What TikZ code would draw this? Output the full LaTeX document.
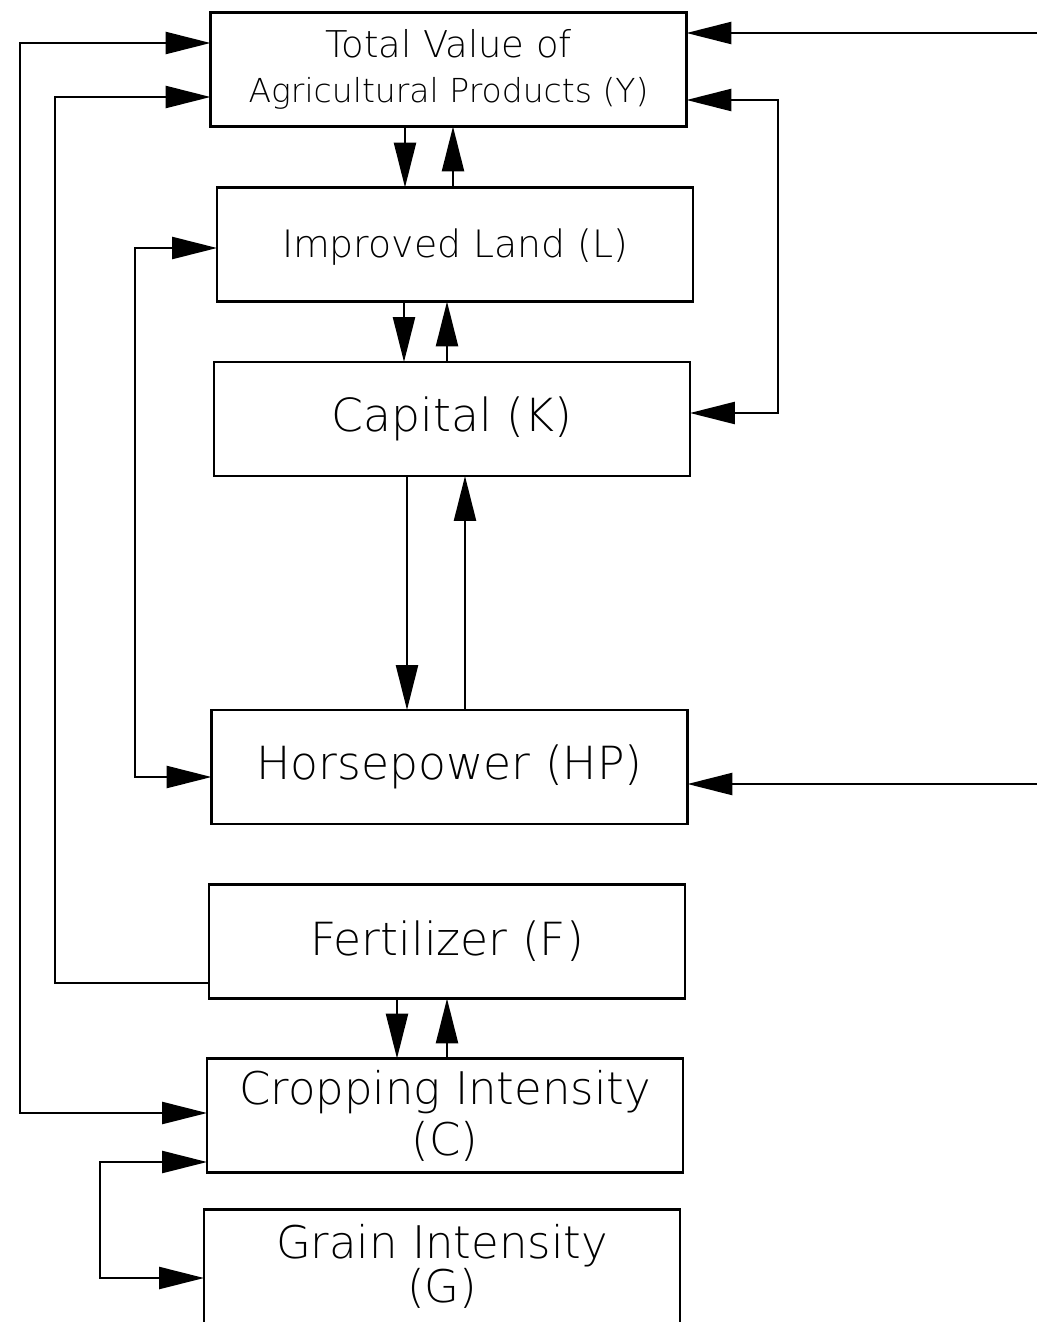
\documentclass[tikz,border=0pt]{standalone}
\usepackage{fontspec}
\setmainfont{DejaVu Sans ExtraLight}
\usetikzlibrary{arrows.meta}
\begin{document}
\begin{tikzpicture}[x=0.02cm, y=-0.02cm, line width=1.4pt,
    >={Triangle[length=0.9cm,width=0.44cm]},
    blk/.style={draw, minimum width=9.52cm, minimum height=2.28cm, align=center, inner sep=0pt, outer sep=0pt},
    big/.style={font=\fontsize{26}{34}\selectfont}]
\useasboundingbox (0,0) rectangle (1037,1322);
% boxes
\node[blk, font=\fontsize{18.8}{24}\selectfont] (Y) at (448.5,69.5)
    {{\fontsize{21}{24}\selectfont Total Value of}\\[2pt]Agricultural Products (Y)};
\node[blk, font=\fontsize{21.5}{26}\selectfont, text height=19pt] (L) at (455,244.5) {Improved Land (L)};
\node[blk, big] (K) at (452,419) {Capital (K)};
\node[blk, big] (HP) at (449.5,767) {Horsepower (HP)};
\node[blk, big] (F) at (447,941.5) {Fertilizer (F)};
\node[blk, font=\fontsize{25.6}{29}\selectfont] (C) at (445,1115.5) {Cropping Intensity\\(C)};
\node[blk, font=\fontsize{25.6}{25}\selectfont] (G) at (442,1266.5) {Grain Intensity\\(G)};
% two-way links down the middle
\draw[->] (Y.south -| 405,0) -- (L.north -| 405,0);
\draw[->] (L.north -| 453,0) -- (Y.south -| 453,0);
\draw[->] (L.south -| 404,0) -- (K.north -| 404,0);
\draw[->] (K.north -| 447,0) -- (L.south -| 447,0);
\draw[->] (K.south -| 407,0) -- (HP.north -| 407,0);
\draw[->] (HP.north -| 465,0) -- (K.south -| 465,0);
\draw[->] (F.south -| 397,0) -- (C.north -| 397,0);
\draw[->] (C.north -| 447,0) -- (F.south -| 447,0);
% inputs from the right
\coordinate (inY) at (1037,33);
\coordinate (inHP) at (1037,784);
\draw[->] (inY) -- (inY -| Y.east);
\draw[->] (inHP) -- (inHP -| HP.east);
% feedback loops
\draw[<->] (Y.east |- 0,100) -- (778,100) -- (778,413) -- (K.east |- 0,413);
\draw[<->] (Y.west |- 0,43) -- (20,43) -- (20,1113) -- (C.west |- 0,1113);
\draw[->] (F.west |- 0,983) -- (55,983) -- (55,97) -- (Y.west |- 0,97);
\draw[<->] (L.west |- 0,248) -- (135,248) -- (135,777) -- (HP.west |- 0,777);
\draw[<->] (C.west |- 0,1162) -- (100,1162) -- (100,1278) -- (G.west |- 0,1278);
\end{tikzpicture}
\end{document}
